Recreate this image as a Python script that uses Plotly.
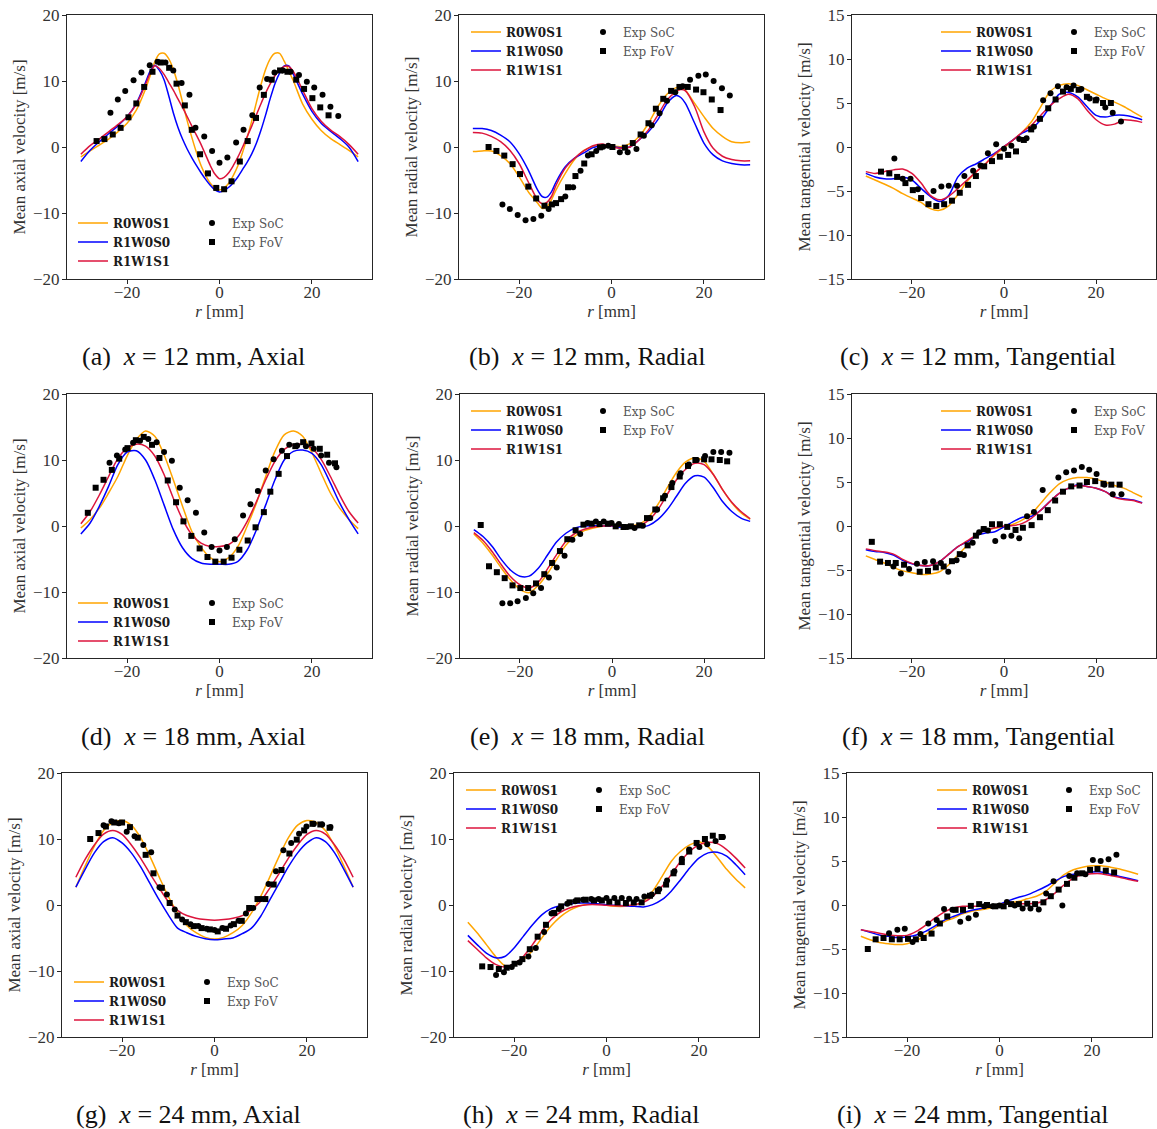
import plotly.graph_objects as go

# ---------------------------------------------------------------- data
R_A = [-30, -28, -26, -24, -22, -20, -18, -16, -15, -14, -13, -12, -11, -10, -9, -8, -7, -6, -5, -4, -3, -2, -1, 0,
       1, 2, 3, 4, 5, 6, 7, 8, 9, 10, 11, 12, 13, 14, 15, 16, 18, 20, 22, 24, 26, 28, 30]
A_R0W0S1 = [-1.5, -0.6, 0.3, 1.2, 2.3, 3.6, 5.6, 8.8, 10.8, 12.9, 14.1, 14.2, 13.4, 11.8, 9.5, 6.8, 4.0, 1.5, -0.8, -2.8, -4.3, -5.5, -6.2, -6.5,
            -6.2, -5.5, -4.3, -2.8, -0.8, 1.5, 4.0, 6.8, 9.5, 11.8, 13.4, 14.2, 14.2, 13.0, 11.5, 10.0, 6.5, 4.2, 2.5, 1.3, 0.4, -0.5, -1.5]
A_R1W0S0 = [-2.2, -0.5, 0.8, 2.0, 3.2, 4.6, 6.6, 9.8, 11.5, 12.4, 11.6, 10.2, 7.8, 5.2, 3.0, 1.2, -0.3, -1.6, -2.8, -3.9, -4.9, -5.8, -6.5, -6.8,
            -6.6, -6.1, -5.4, -4.5, -3.4, -2.3, -1.0, 0.6, 2.6, 4.9, 7.4, 9.6, 11.2, 12.3, 12.3, 11.0, 8.0, 5.4, 3.6, 2.4, 1.3, 0.0, -2.2]
A_R1W1S1 = [-1.1, 0.2, 1.2, 2.3, 3.4, 4.6, 6.5, 9.5, 11.2, 12.3, 11.9, 11.0, 9.8, 8.6, 7.3, 6.0, 4.6, 3.2, 1.8, 0.4, -1.2, -2.8, -4.1, -4.8,
            -4.6, -3.9, -2.8, -1.5, 0.0, 1.6, 3.2, 4.9, 6.6, 8.2, 9.6, 10.8, 11.7, 12.2, 12.2, 11.4, 8.6, 5.8, 3.9, 2.6, 1.6, 0.4, -1.1]
A_SOC_R = [-23.6, -22.0, -20.4, -18.6, -16.9, -15.1, -13.4, -11.7, -10.0, -8.2, -6.5, -5.2, -3.3, -1.6, 0.0, 1.7, 3.6, 5.2, 7.1, 8.7,
           10.3, 11.9, 13.7, 15.4, 17.2, 18.9, 20.5, 22.3, 24.0, 25.7]
A_SOC_V = [5.2, 7.2, 8.5, 10.1, 11.3, 12.4, 12.9, 12.8, 11.6, 9.7, 7.9, 2.9, 1.6, -0.6, -2.4, -1.6, 0.7, 2.6, 4.8, 9.0,
           10.3, 11.3, 11.6, 11.4, 10.9, 9.9, 9.0, 7.9, 6.1, 4.7]
A_FOV_R = [-26.6, -24.9, -23.1, -21.4, -19.7, -18.0, -16.3, -14.5, -12.7, -10.9, -9.3, -7.5, -6.0, -4.2, -2.5, -0.7, 1.0, 2.6, 4.4, 6.1,
           7.9, 9.6, 11.3, 13.1, 14.7, 16.6, 18.3, 20.1, 21.8, 23.6]
A_FOV_V = [0.9, 1.2, 1.9, 2.9, 4.5, 6.6, 9.1, 11.4, 12.8, 12.0, 9.6, 6.3, 2.6, -1.1, -4.0, -6.2, -6.4, -5.2, -2.2, 0.9,
           4.4, 7.9, 10.2, 11.6, 11.4, 10.2, 8.8, 7.4, 6.0, 4.8]

R_B = [-30, -28, -26, -24, -22, -20, -18, -16, -15, -14, -13, -12, -10, -8, -6, -4, -2, 0, 2, 4, 6, 8, 10, 12, 14, 15, 16,
       18, 20, 22, 24, 26, 28, 30]
B_R0W0S1 = [-0.7, -0.6, -0.6, -1.3, -2.5, -4.5, -6.8, -8.5, -9.3, -9.1, -8.0, -6.5, -4.0, -1.9, -0.5, 0.05, 0.2, 0.15, 0.05, 0.5, 1.6,
            3.6, 6.1, 8.0, 9.0, 9.0, 8.6, 6.6, 4.6, 2.8, 1.6, 0.8, 0.65, 0.8]
B_R1W0S0 = [2.8, 2.8, 2.5, 1.8, 0.8, -1.0, -3.5, -6.5, -7.5, -7.6, -6.8, -5.3, -3.0, -1.7, -0.9, -0.1, 0.15, 0.05, -0.1, 0.0, 1.1,
            2.3, 4.1, 6.6, 7.8, 7.5, 6.6, 3.6, 0.6, -1.2, -2.1, -2.5, -2.7, -2.7]
B_R1W1S1 = [2.2, 2.1, 1.6, 0.8, -0.5, -2.5, -5.3, -8.0, -8.6, -8.4, -7.5, -5.8, -3.2, -1.7, -0.6, 0.2, 0.45, 0.05, -0.2, 0.0, 1.1,
            2.6, 4.8, 7.1, 8.4, 8.7, 8.5, 6.1, 2.3, -0.2, -1.4, -1.9, -2.1, -2.1]
B_SOC_R = [-23.6, -22.0, -20.3, -18.6, -16.9, -15.2, -13.6, -10.0, -8.3, -6.7, -5.1, -3.3, -1.8, -0.7, 1.8, 3.5, 5.4, 7.0, 8.7, 10.4,
           12.0, 13.8, 15.4, 17.0, 18.8, 20.4, 22.1, 23.9, 25.6]
B_SOC_V = [-8.7, -9.4, -10.3, -11.1, -10.9, -10.4, -9.4, -7.5, -6.1, -3.6, -1.3, -0.6, 0.05, 0.2, -0.8, -0.8, -0.3, 1.7, 3.3, 5.1,
           7.0, 8.3, 9.2, 10.2, 10.8, 11.0, 10.0, 8.9, 7.8]
B_FOV_R = [-26.6, -24.9, -23.2, -21.4, -19.8, -18.0, -16.3, -14.5, -12.9, -12.0, -10.9, -9.4, -7.8, -5.9, -4.3, -2.5, 0.2, 2.9, 4.6, 6.3,
           8.0, 9.6, 11.2, 12.9, 14.7, 16.5, 18.3, 19.9, 21.7, 23.6]
B_FOV_V = [0.0, -0.6, -1.3, -2.6, -4.1, -6.0, -7.8, -8.9, -8.7, -8.5, -7.9, -6.1, -4.4, -2.5, -1.1, -0.05, 0.0, -0.1, 0.6, 1.9,
           3.6, 5.8, 7.3, 8.5, 9.1, 9.1, 8.7, 8.3, 7.2, 5.6]

R_EVEN = [-30, -28, -26, -24, -22, -20, -18, -16, -14, -12, -10, -8, -6, -4, -2, 0,
          2, 4, 6, 8, 10, 12, 14, 16, 18, 20, 22, 24, 26, 28, 30]
C_R0W0S1 = [-3.3, -3.75, -4.2, -4.7, -5.3, -5.8, -6.3, -7.0, -7.2, -6.7, -5.4, -3.9, -2.8, -1.9, -0.9, -0.1,
            0.8, 1.7, 2.9, 4.6, 6.3, 7.0, 7.2, 7.0, 6.5, 6.0, 5.5, 5.1, 4.6, 4.0, 3.4]
C_R1W0S0 = [-3.0, -3.4, -3.6, -3.6, -3.4, -3.75, -4.7, -5.6, -6.2, -5.5, -3.4, -2.4, -1.9, -1.3, -0.7, 0.05,
            0.8, 1.6, 2.1, 3.1, 4.6, 6.0, 6.2, 5.7, 4.6, 3.6, 3.4, 3.6, 3.6, 3.4, 3.1]
C_R1W1S1 = [-2.8, -3.0, -2.8, -2.6, -2.5, -3.0, -4.1, -5.5, -6.0, -5.6, -4.7, -3.75, -2.8, -1.9, -0.8, 0.05,
            0.8, 1.7, 2.5, 3.6, 4.7, 5.5, 6.0, 5.5, 4.2, 3.1, 2.5, 2.6, 3.1, 3.0, 2.8]
C_SOC_R = [-23.8, -22.0, -20.3, -18.7, -15.3, -13.6, -12.0, -10.2, -8.6, -6.7, -5.1, -3.5, -1.7, 0.0, 1.6, 3.3, 4.9, 6.5, 8.5, 10.1,
           11.7, 13.6, 15.1, 16.8, 18.6, 20.1, 22.0, 23.6, 25.4]
C_SOC_V = [-1.3, -3.6, -3.6, -4.8, -5.0, -4.5, -4.4, -4.4, -3.3, -2.7, -2.1, -0.7, 0.3, -0.2, 0.15, 0.9, 1.0, 2.3, 5.3, 6.1,
           6.9, 6.8, 7.0, 6.6, 5.5, 5.4, 4.5, 3.9, 2.9]
C_FOV_R = [-26.7, -24.9, -23.2, -21.4, -19.8, -18.0, -16.4, -14.7, -13.0, -11.3, -9.6, -7.8, -6.1, -4.3, -2.6, -0.9, 0.9, 2.6, 4.3, 5.9,
           7.8, 9.6, 11.2, 12.8, 14.5, 16.2, 18.0, 19.9, 21.5, 23.2]
C_FOV_V = [-2.8, -3.0, -3.4, -4.1, -4.9, -5.8, -6.5, -6.7, -6.5, -6.1, -5.2, -4.3, -3.3, -2.2, -1.6, -1.1, -0.9, -0.5, 0.8, 2.0,
           3.2, 4.4, 5.4, 6.3, 6.6, 6.5, 5.7, 5.3, 5.0, 5.0]

D_R0W0S1 = [-0.3, 1.0, 2.7, 5.0, 7.5, 10.6, 13.1, 14.4, 13.6, 10.8, 7.0, 3.0, -0.8, -3.2, -4.8, -5.4,
            -4.8, -3.1, 0.0, 3.5, 7.5, 11.3, 13.8, 14.4, 13.6, 11.1, 8.0, 5.0, 2.7, 1.0, -0.4]
D_R1W0S0 = [-1.2, 0.45, 3.0, 6.0, 9.3, 11.2, 11.4, 10.0, 7.0, 3.2, -0.55, -3.3, -4.9, -5.6, -5.8, -5.8,
            -5.8, -5.35, -3.6, -0.55, 3.2, 7.0, 10.0, 11.3, 11.5, 11.0, 9.3, 6.5, 3.5, 1.0, -1.2]
D_R1W1S1 = [0.35, 2.2, 4.7, 7.5, 10.2, 11.8, 12.4, 12.1, 10.6, 7.8, 4.2, 1.0, -1.3, -2.6, -3.1, -3.1,
            -2.8, -1.6, 0.7, 3.7, 7.0, 9.8, 11.6, 12.3, 12.4, 11.8, 10.1, 7.5, 4.7, 2.2, 0.45]
D_SOC_R = [-23.8, -22.2, -20.4, -18.7, -17.2, -15.4, -13.6, -12.0, -10.3, -8.6, -6.9, -5.1, -3.3, -1.7, 0.0, 1.6, 3.3, 5.1, 6.7, 8.3,
           10.0, 11.7, 13.5, 15.1, 16.8, 18.7, 20.4, 22.0, 23.7, 25.3]
D_SOC_V = [9.6, 10.7, 11.6, 12.6, 12.9, 13.2, 12.7, 11.2, 9.9, 5.8, 3.9, 2.0, -1.0, -3.2, -3.7, -3.2, -2.0, 1.6, 3.3, 5.3,
           8.4, 10.1, 11.4, 12.3, 12.2, 12.1, 11.7, 10.7, 9.6, 8.9]
D_FOV_R = [-28.5, -26.8, -25.1, -23.3, -21.7, -19.9, -18.1, -16.4, -14.6, -13.0, -11.2, -9.4, -7.8, -6.1, -4.3, -2.6, -0.9, 0.9, 2.6, 4.3,
           6.1, 7.8, 9.6, 11.0, 12.8, 14.6, 16.4, 18.1, 19.9, 21.7, 23.3, 25.0]
D_FOV_V = [2.0, 5.8, 7.0, 8.5, 10.2, 11.8, 13.0, 13.5, 12.3, 10.3, 6.9, 3.6, 0.7, -1.5, -3.4, -4.7, -5.4, -5.4, -4.8, -3.6,
           -2.2, -0.2, 2.1, 5.2, 7.9, 10.6, 12.1, 12.7, 12.5, 11.7, 10.8, 9.5]

E_R0W0S1 = [-1.2, -2.6, -4.4, -6.4, -8.2, -9.6, -10.1, -9.0, -7.2, -5.0, -2.9, -1.5, -0.7, -0.3, -0.05, 0.05,
            0.0, 0.0, 0.3, 1.4, 3.3, 5.8, 8.1, 9.7, 10.3, 9.8, 7.8, 5.5, 3.5, 2.0, 1.0]
E_R1W0S0 = [-0.55, -1.6, -3.1, -5.1, -6.7, -7.6, -7.6, -6.4, -4.4, -2.4, -1.1, -0.3, 0.0, 0.05, 0.05, 0.0,
            -0.2, -0.3, -0.2, 0.1, 1.0, 2.5, 4.5, 6.5, 7.6, 7.4, 5.8, 3.7, 2.2, 1.2, 0.7]
E_R1W1S1 = [-1.0, -2.2, -3.9, -5.9, -7.7, -8.9, -9.4, -8.5, -6.5, -4.3, -2.3, -1.1, -0.5, -0.15, 0.0, 0.05,
            0.0, 0.0, 0.1, 0.9, 2.5, 4.8, 7.0, 8.6, 9.5, 9.3, 7.8, 5.5, 3.6, 2.2, 1.1]
E_SOC_R = [-23.8, -22.1, -20.5, -18.7, -17.1, -15.4, -13.7, -12.0, -10.3, -8.6, -6.9, -5.3, -3.5, -1.8, -0.1, 1.5, 3.3, 4.9, 6.7, 8.3,
           9.8, 11.5, 13.1, 14.9, 16.7, 18.4, 20.2, 22.0, 23.7, 25.5]
E_SOC_V = [-11.7, -11.7, -11.4, -10.9, -10.2, -9.4, -7.8, -6.3, -4.5, -2.1, -1.2, 0.45, 0.7, 0.7, 0.45, 0.3, -0.15, -0.3, 0.05, 1.2,
           2.5, 4.6, 6.5, 8.0, 9.3, 10.0, 10.6, 11.2, 11.2, 11.1]
E_FOV_R = [-28.5, -26.7, -25.0, -23.3, -21.6, -19.9, -18.2, -16.5, -14.7, -13.0, -11.3, -9.7, -7.9, -6.2, -4.4, -2.7, -0.9, 0.8, 2.5, 4.1,
           5.9, 7.6, 9.4, 11.1, 12.9, 14.7, 16.5, 18.1, 20.0, 21.6, 23.4, 25.0]
E_FOV_V = [0.15, -6.1, -7.0, -7.9, -9.0, -9.4, -9.4, -8.7, -7.3, -5.6, -3.8, -2.0, -0.65, 0.2, 0.35, 0.3, 0.35, -0.05, -0.15, -0.05,
           0.1, 1.2, 2.5, 4.2, 5.9, 7.5, 9.1, 10.0, 10.1, 10.1, 10.0, 9.8]

F_R0W0S1 = [-3.4, -3.8, -4.2, -4.7, -5.1, -5.3, -5.5, -5.45, -5.2, -4.4, -3.3, -2.2, -1.0, -0.45, -0.25, -0.1,
            0.2, 0.7, 1.4, 2.6, 3.8, 4.8, 5.3, 5.5, 5.5, 5.3, 5.0, 4.6, 4.3, 3.8, 3.3]
F_R1W0S0 = [-2.7, -2.9, -3.0, -3.3, -3.9, -4.3, -4.5, -4.5, -4.05, -3.2, -2.35, -1.8, -1.1, -0.8, -0.65, -0.1,
            0.5, 1.0, 1.1, 1.8, 2.8, 3.7, 4.3, 4.7, 4.5, 4.3, 3.9, 3.3, 3.1, 2.95, 2.65]
F_R1W1S1 = [-2.6, -2.8, -2.95, -3.2, -3.8, -4.25, -4.5, -4.5, -4.05, -3.2, -2.35, -1.7, -1.0, -0.5, -0.2, 0.0,
            0.05, 0.3, 0.9, 1.8, 2.8, 3.7, 4.3, 4.6, 4.5, 4.3, 3.9, 3.25, 3.0, 2.9, 2.6]
F_SOC_R = [-24.0, -22.4, -20.6, -18.9, -17.2, -15.4, -13.7, -12.1, -10.3, -8.7, -6.8, -5.4, -4.4, -3.5, -1.9, -0.1, 1.6, 3.3, 5.0, 6.5,
           8.4, 11.8, 13.5, 15.2, 16.9, 18.5, 20.1, 21.8, 23.6, 25.5]
F_SOC_V = [-4.6, -5.4, -4.9, -4.3, -4.1, -4.0, -4.2, -5.2, -3.9, -3.3, -1.9, -0.7, -0.35, -0.5, -1.7, -1.2, -1.1, -1.4, 1.1, 1.6,
           4.1, 5.5, 6.1, 6.3, 6.7, 6.4, 5.9, 4.7, 3.6, 3.6]
F_FOV_R = [-28.7, -26.9, -25.2, -23.5, -21.7, -18.3, -16.5, -14.8, -13.1, -11.3, -9.6, -7.9, -6.1, -4.4, -2.6, -0.9, 0.7, 2.5, 4.1, 6.0,
           7.8, 9.5, 11.1, 12.8, 14.6, 16.4, 18.0, 19.8, 21.6, 23.3, 25.1]
F_FOV_V = [-1.8, -4.05, -4.2, -4.2, -4.4, -5.2, -5.1, -4.7, -4.6, -4.0, -3.2, -2.2, -1.1, -0.35, 0.2, 0.2, -0.1, -0.45, -0.2, 0.1,
           1.0, 1.8, 2.9, 3.9, 4.5, 4.6, 5.0, 5.1, 4.8, 4.7, 4.7]

G_R0W0S1 = [2.7, 5.9, 8.9, 11.3, 12.5, 12.8, 12.1, 10.2, 7.4, 4.3, 1.3, -1.2, -3.1, -4.2, -4.9, -5.15,
            -4.9, -4.2, -3.1, -1.2, 1.3, 4.3, 7.4, 10.2, 12.1, 12.8, 12.5, 11.3, 8.9, 5.9, 2.7]
G_R1W0S0 = [2.7, 5.4, 7.9, 9.6, 10.2, 9.4, 7.9, 5.8, 3.3, 0.8, -1.5, -3.5, -4.2, -4.75, -5.1, -5.25,
            -5.15, -5.0, -4.35, -3.5, -1.7, 0.8, 3.3, 5.8, 7.9, 9.4, 10.2, 9.6, 7.9, 5.4, 2.7]
G_R1W1S1 = [4.2, 6.9, 9.1, 10.75, 11.3, 10.7, 9.1, 7.1, 4.8, 2.6, 0.55, -0.8, -1.6, -2.0, -2.2, -2.3,
            -2.2, -2.0, -1.6, -0.7, 0.55, 2.6, 4.8, 7.1, 9.1, 10.7, 11.3, 10.75, 9.1, 6.9, 4.2]
G_SOC_R = [-24.0, -22.3, -20.7, -19.0, -17.3, -15.4, -13.7, -11.9, -10.3, -8.6, -7.0, -5.2, -3.5, -1.7, 0.0, 1.7, 3.5, 5.2, 6.8, 8.4,
           10.1, 11.7, 13.3, 14.9, 16.6, 18.3, 19.9, 21.5, 23.3, 25.1]
G_SOC_V = [12.1, 12.7, 12.4, 11.1, 10.4, 9.1, 8.0, 2.7, 1.6, -0.7, -2.2, -2.9, -3.2, -3.6, -3.8, -3.5, -3.1, -2.4, -1.3, -0.45,
           0.9, 3.2, 5.1, 8.3, 9.4, 10.8, 11.9, 12.3, 12.2, 11.8]
G_FOV_R = [-26.9, -25.1, -23.5, -21.7, -20.0, -18.3, -16.6, -14.9, -13.2, -11.4, -9.7, -8.0, -6.2, -4.5, -2.8, -1.0, 0.7, 2.5, 4.2, 5.9,
           7.5, 9.3, 11.0, 12.8, 14.5, 16.2, 17.8, 19.4, 21.2, 22.9, 24.9]
G_FOV_V = [10.0, 10.9, 11.9, 12.5, 12.5, 11.8, 10.2, 7.6, 4.8, 2.6, 0.3, -1.6, -2.6, -3.2, -3.5, -3.7, -4.0, -3.6, -2.9, -2.4,
           -0.45, 0.9, 0.9, 3.1, 5.3, 7.8, 9.9, 11.3, 12.3, 12.2, 11.7]

H_R0W0S1 = [-2.6, -4.2, -6.0, -7.8, -9.2, -9.2, -8.3, -6.9, -5.0, -3.2, -1.8, -0.8, -0.2, 0.15, 0.2, -0.05,
            -0.2, -0.2, -0.05, 0.55, 2.1, 4.3, 6.6, 8.1, 9.1, 9.6, 8.8, 7.2, 5.4, 3.9, 2.6]
H_R1W0S0 = [-4.6, -6.0, -7.3, -8.0, -7.8, -6.5, -4.75, -3.0, -1.5, -0.55, -0.1, 0.15, 0.3, 0.3, 0.2, 0.05,
            -0.05, -0.1, -0.2, -0.3, 0.05, 0.8, 2.1, 3.8, 5.6, 7.1, 7.9, 8.0, 7.4, 6.1, 4.6]
H_R1W1S1 = [-5.4, -6.7, -8.0, -9.0, -9.4, -8.9, -7.8, -6.0, -4.0, -2.2, -1.1, -0.45, -0.1, 0.05, 0.05, -0.05,
            -0.1, -0.1, 0.05, 0.4, 1.3, 2.8, 4.6, 6.6, 8.1, 9.1, 9.5, 9.3, 8.4, 7.1, 5.6]
H_SOC_R = [-23.9, -22.2, -20.5, -18.8, -16.9, -15.3, -13.5, -11.9, -10.3, -8.5, -6.8, -5.1, -3.3, -1.7, 0.0, 1.7, 3.3, 4.9, 6.5, 8.2,
           9.8, 11.4, 13.1, 14.7, 16.3, 17.9, 20.1, 21.8, 23.6, 25.2]
H_SOC_V = [-10.6, -10.2, -9.4, -8.7, -7.8, -6.5, -4.1, -1.3, -0.6, 0.2, 0.55, 0.8, 0.9, 0.9, 1.05, 1.05, 1.05, 0.95, 0.9, 1.3,
           1.6, 2.4, 3.7, 5.1, 7.0, 8.4, 8.8, 9.2, 9.7, 10.3]
H_FOV_R = [-26.9, -25.1, -23.3, -21.6, -19.9, -18.2, -16.6, -14.9, -13.1, -11.3, -9.8, -8.0, -6.3, -4.5, -2.7, -1.0, 0.6, 2.4, 4.2, 5.9,
           7.6, 9.4, 11.1, 12.9, 14.5, 16.3, 17.9, 19.5, 21.3, 23.0, 24.9]
H_FOV_V = [-9.3, -9.4, -9.7, -9.5, -8.9, -8.2, -6.7, -4.8, -3.0, -1.2, -0.2, 0.4, 0.7, 0.8, 0.7, 0.7, 0.5, 0.4, 0.3, 0.4,
           0.4, 1.4, 2.1, 3.1, 4.8, 6.5, 8.1, 9.4, 10.0, 10.5, 10.3]

I_R0W0S1 = [-3.55, -3.95, -4.25, -4.4, -4.5, -4.4, -4.05, -3.4, -2.6, -1.9, -1.5, -1.0, -0.7, -0.55, -0.35, -0.1,
            0.2, 0.4, 0.7, 1.0, 1.55, 2.5, 3.45, 4.0, 4.3, 4.45, 4.45, 4.3, 4.1, 3.8, 3.5]
I_R1W0S0 = [-2.8, -3.1, -3.4, -3.55, -3.7, -3.6, -3.4, -3.0, -2.4, -1.75, -1.3, -0.9, -0.6, -0.4, -0.2, 0.1,
            0.5, 0.85, 1.15, 1.6, 2.1, 2.7, 3.25, 3.5, 3.6, 3.75, 3.75, 3.5, 3.25, 3.0, 2.75]
I_R1W1S1 = [-2.8, -3.0, -3.2, -3.4, -3.5, -3.45, -3.0, -2.3, -1.5, -0.8, -0.35, -0.15, -0.15, -0.15, -0.1, 0.05,
            0.15, 0.15, 0.15, 0.2, 0.6, 1.35, 2.3, 3.05, 3.45, 3.55, 3.55, 3.35, 3.15, 2.9, 2.7]
I_SOC_R = [-23.9, -22.1, -20.5, -18.8, -17.1, -15.4, -13.6, -12.0, -10.2, -8.5, -6.7, -5.1, -3.3, -1.5, 0.0, 1.6, 3.3, 5.0, 6.7, 8.5,
           10.1, 11.7, 13.6, 15.1, 16.8, 18.6, 20.2, 21.9, 23.6, 25.3]
I_SOC_V = [-3.2, -2.8, -2.7, -4.2, -3.3, -2.1, -1.7, -0.45, -0.55, -1.9, -1.5, -1.1, -0.15, -0.15, -0.05, 0.35, -0.05, -0.4, -0.4, -0.5,
           1.3, 2.7, -0.05, 3.3, 3.6, 3.5, 5.1, 5.0, 5.2, 5.7]
I_FOV_R = [-28.5, -26.8, -25.1, -23.3, -21.6, -19.8, -18.1, -16.4, -14.7, -12.9, -11.3, -9.5, -7.9, -6.2, -4.4, -2.7, -0.9, 0.9, 2.5, 4.2,
           6.0, 7.7, 9.5, 11.1, 12.8, 14.6, 16.2, 17.9, 19.6, 21.2, 23.0, 24.8]
I_FOV_V = [-5.0, -3.9, -3.75, -3.9, -3.9, -3.85, -3.9, -3.75, -3.25, -2.1, -1.3, -0.55, -0.55, -0.1, 0.1, 0.0, -0.15, -0.15, 0.1, 0.1,
           0.15, 0.1, 0.3, 1.0, 1.75, 2.4, 3.1, 3.6, 4.0, 4.1, 3.9, 3.7]

SERIES_NAMES = ["R0W0S1", "R1W0S0", "R1W1S1"]
EXP_NAMES = ["Exp SoC", "Exp FoV"]
Y_TITLES = ["Mean axial velocity [m/s]", "Mean radial velocity [m/s]", "Mean tangential velocity [m/s]"]
CAPTIONS = ["(a)", "(b)", "(c)", "(d)", "(e)", "(f)", "(g)", "(h)", "(i)"]
STATIONS = [12, 12, 12, 18, 18, 18, 24, 24, 24]
COMPONENTS = ["Axial", "Radial", "Tangential"] * 3
X_TICKS = [-20, 0, 20]
Y_TICKS_VEL = [-20, -10, 0, 10, 20]
Y_TICKS_TAN = [-15, -10, -5, 0, 5, 10, 15]

PANELS = [
    (R_A, [A_R0W0S1, A_R1W0S0, A_R1W1S1], A_SOC_R, A_SOC_V, A_FOV_R, A_FOV_V),
    (R_B, [B_R0W0S1, B_R1W0S0, B_R1W1S1], B_SOC_R, B_SOC_V, B_FOV_R, B_FOV_V),
    (R_EVEN, [C_R0W0S1, C_R1W0S0, C_R1W1S1], C_SOC_R, C_SOC_V, C_FOV_R, C_FOV_V),
    (R_EVEN, [D_R0W0S1, D_R1W0S0, D_R1W1S1], D_SOC_R, D_SOC_V, D_FOV_R, D_FOV_V),
    (R_EVEN, [E_R0W0S1, E_R1W0S0, E_R1W1S1], E_SOC_R, E_SOC_V, E_FOV_R, E_FOV_V),
    (R_EVEN, [F_R0W0S1, F_R1W0S0, F_R1W1S1], F_SOC_R, F_SOC_V, F_FOV_R, F_FOV_V),
    (R_EVEN, [G_R0W0S1, G_R1W0S0, G_R1W1S1], G_SOC_R, G_SOC_V, G_FOV_R, G_FOV_V),
    (R_EVEN, [H_R0W0S1, H_R1W0S0, H_R1W1S1], H_SOC_R, H_SOC_V, H_FOV_R, H_FOV_V),
    (R_EVEN, [I_R0W0S1, I_R1W0S0, I_R1W1S1], I_SOC_R, I_SOC_V, I_FOV_R, I_FOV_V),
]

# ---------------------------------------------------------------- layout / style
W, H = 1157, 1129
FONT = "Liberation Serif"
LEG_FONT = "DejaVu Serif"
COLORS = ["#FFA500", "#0000FF", "#DC143C"]
AXC = "#262626"


def fx(px):
    return px / W


def fy(py):
    return 1 - py / H


# plot boxes in pixels: left, right, top, bottom
BOXES = [(67, 372, 15, 279), (459, 764, 15, 279), (852, 1156, 15, 279),
         (67, 372, 394, 658), (460, 764, 394, 658), (852, 1156, 394, 658),
         (62, 367, 773, 1037), (454, 759, 773, 1037), (847, 1152, 773, 1037)]
# legend anchors: line start x, first row y, exp marker x
LEGPOS = [(78, 223, 212), (471, 32, 603), (941, 32, 1074),
          (78, 603, 212), (471, 411, 603), (941, 411, 1074),
          (74, 982, 207), (466, 790, 599), (937, 790, 1069)]
CAPPOS = [(193, 356), (587, 356), (978, 356), (193, 736), (587, 736), (978, 736),
          (189, 1114), (581, 1114), (973, 1114)]

fig = go.Figure()
layout = dict(width=W, height=H, margin=dict(l=0, r=0, t=0, b=0, pad=0, autoexpand=False),
              template="none", paper_bgcolor="white", plot_bgcolor="white", showlegend=True)
annotations = []

for k, (r_sim, sims, soc_r, soc_v, fov_r, fov_v) in enumerate(PANELS):
    n = k + 1
    xa = "x" if n == 1 else f"x{n}"
    ya = "y" if n == 1 else f"y{n}"
    leg_sim = "legend" if k == 0 else f"legend{2 * k + 1}"
    leg_exp = f"legend{2 * k + 2}"
    for name, vals, col in zip(SERIES_NAMES, sims, COLORS):
        fig.add_trace(go.Scatter(x=r_sim, y=vals, mode="lines", name=f"<b>{name}</b>",
                                 line=dict(color=col, width=1.5, shape="spline", smoothing=0.8),
                                 xaxis=xa, yaxis=ya, legend=leg_sim, showlegend=True))
    fig.add_trace(go.Scatter(x=soc_r, y=soc_v, mode="markers", name=EXP_NAMES[0],
                             marker=dict(symbol="circle", size=6, color="black", line=dict(width=0)),
                             xaxis=xa, yaxis=ya, legend=leg_exp, showlegend=True))
    fig.add_trace(go.Scatter(x=fov_r, y=fov_v, mode="markers", name=EXP_NAMES[1],
                             marker=dict(symbol="square", size=6, color="black", line=dict(width=0)),
                             xaxis=xa, yaxis=ya, legend=leg_exp, showlegend=True))

    l, r, t, b = BOXES[k]
    comp = k % 3
    yr = [-15, 15] if comp == 2 else [-20, 20]
    yt = Y_TICKS_TAN if comp == 2 else Y_TICKS_VEL
    common = dict(showline=True, linecolor=AXC, linewidth=1, mirror=True, ticks="outside",
                  ticklen=4, tickwidth=1, tickcolor=AXC, showgrid=False, zeroline=False,
                  automargin=False,
                  tickfont=dict(family=FONT, size=17, color="#333333"))
    layout["xaxis" if n == 1 else f"xaxis{n}"] = dict(
        common, domain=[fx(l), fx(r)], anchor=ya, range=[-33, 33], tickvals=X_TICKS,
        ticklabelstandoff=-6,
        title=dict(text="<i>r</i> [mm]", font=dict(family=FONT, size=17, color="#333333"), standoff=2))
    layout["yaxis" if n == 1 else f"yaxis{n}"] = dict(
        common, domain=[fy(b), fy(t)], anchor=xa, range=yr, tickvals=yt,
        ticklabelstandoff=-1,
        title=dict(text=Y_TITLES[comp], font=dict(family=FONT, size=17, color="#333333"), standoff=3))

    lx, ly, mx = LEGPOS[k]
    layout[leg_sim] = dict(x=fx(lx - 5), y=fy(ly - 14.5), xanchor="left", yanchor="top",
                           bgcolor="rgba(0,0,0,0)", borderwidth=0, tracegroupgap=0,
                           font=dict(family=LEG_FONT, size=12, color="#1a1a1a"))
    layout[leg_exp] = dict(x=fx(mx - 20), y=fy(ly - 14.5), xanchor="left", yanchor="top",
                           bgcolor="rgba(0,0,0,0)", borderwidth=0, tracegroupgap=0,
                           font=dict(family=LEG_FONT, size=12, color="#555555"))

    cx, cy = CAPPOS[k]
    annotations.append(dict(
        text=f"{CAPTIONS[k]}\u00a0 <i>x</i> = {STATIONS[k]} mm, {COMPONENTS[k]}",
        x=fx(cx), y=fy(cy), xref="paper", yref="paper", xanchor="center", yanchor="middle",
        showarrow=False, font=dict(family=FONT, size=26, color="#111111")))

layout["annotations"] = annotations
fig.update_layout(**layout)
fig.write_html("out.html", config={"displayModeBar": False},
               post_script="document.body.style.margin='0px';document.body.style.overflow='hidden';")
